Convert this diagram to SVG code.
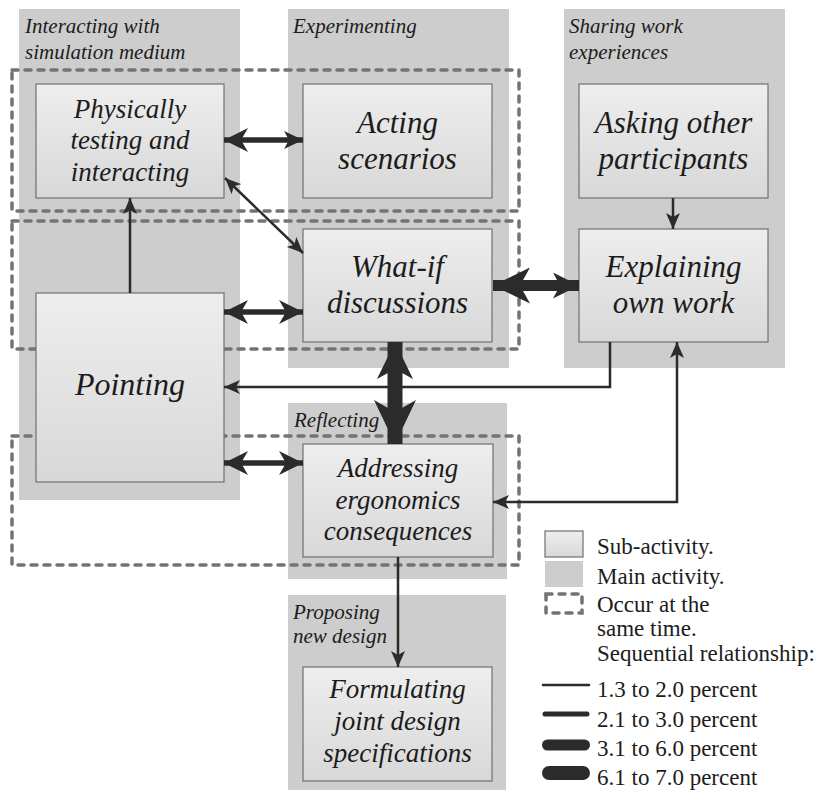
<svg xmlns="http://www.w3.org/2000/svg" width="823" height="790" viewBox="0 0 823 790">
  <style>
    text { font-family: Liberation Serif, Times New Roman, Tinos, Noto Serif, DejaVu Serif, serif; fill: #1c1c1c; }
    .main { fill: #cdcdcd; }
    .sub { fill: url(#subFill); stroke: #707070; stroke-width: 1.2; }
    .mainLabel { font-style: italic; font-size: 21px; }
    .subLabel { font-style: italic; font-size: 31px; text-anchor: middle; }
    .subLabel3 { font-size: 27px; }
    .subLabel1 { font-size: 32px; }
    .concurrent { fill: none; stroke: #737373; stroke-width: 3.5; stroke-dasharray: 6 7; stroke-linecap: round; }
    .link { fill: none; stroke: #2b2b2b; stroke-linejoin: miter; }
    .thin { stroke-width: 2.5; }
    .med { stroke-width: 5.5; }
    .heavy3 { stroke-width: 11; }
    .heavy4 { stroke-width: 15; }
    .legendText { font-size: 23px; }
    .legendLine { stroke: #2b2b2b; stroke-linecap: round; }
  </style>
  <defs>
    <linearGradient id="subFill" x1="0" y1="0" x2="0" y2="1">
      <stop offset="0" stop-color="#eeeeee"/>
      <stop offset="1" stop-color="#d8d8d8"/>
    </linearGradient>
    <marker id="headThin" markerUnits="userSpaceOnUse" markerWidth="16" markerHeight="14" refX="16" refY="7" orient="auto-start-reverse">
      <path d="M0,0 L16,7 L0,14 L4,7 Z" fill="#2b2b2b"/>
    </marker>
    <marker id="headMed" markerUnits="userSpaceOnUse" markerWidth="24" markerHeight="24" refX="24" refY="12" orient="auto-start-reverse">
      <path d="M0,0 L24,12 L0,24 L7,12 Z" fill="#2b2b2b"/>
    </marker>
    <marker id="headMedS" markerUnits="userSpaceOnUse" markerWidth="19" markerHeight="18" refX="19" refY="9" orient="auto-start-reverse">
      <path d="M0,0 L19,9 L0,18 L5,9 Z" fill="#2b2b2b"/>
    </marker>
    <marker id="headHeavyA" markerUnits="userSpaceOnUse" markerWidth="37" markerHeight="36" refX="37" refY="18" orient="auto-start-reverse">
      <path d="M0,0 L37,18 L0,36 L10,18 Z" fill="#2b2b2b"/>
    </marker>
    <marker id="headHeavyB" markerUnits="userSpaceOnUse" markerWidth="26" markerHeight="26" refX="26" refY="13" orient="auto-start-reverse">
      <path d="M0,0 L26,13 L0,26 L7,13 Z" fill="#2b2b2b"/>
    </marker>
    <marker id="headHeavyC" markerUnits="userSpaceOnUse" markerWidth="44" markerHeight="42" refX="44" refY="21" orient="auto-start-reverse">
      <path d="M0,0 L44,21 L0,42 L12,21 Z" fill="#2b2b2b"/>
    </marker>
  </defs>

  <rect x="0" y="0" width="823" height="790" fill="#ffffff"/>

  <!-- main activities -->
  <g id="main-interacting">
    <rect class="main" x="19" y="9" width="221" height="491"/>
    <text class="mainLabel" font-family="Liberation Serif" x="25" y="33">Interacting with</text>
    <text class="mainLabel" font-family="Liberation Serif" x="25" y="59">simulation medium</text>
  </g>
  <g id="main-experimenting">
    <rect class="main" x="288" y="9" width="221" height="359"/>
    <text class="mainLabel" x="293" y="33">Experimenting</text>
  </g>
  <g id="main-sharing">
    <rect class="main" x="564" y="9" width="221" height="359"/>
    <text class="mainLabel" x="569" y="33">Sharing work</text>
    <text class="mainLabel" x="569" y="59">experiences</text>
  </g>
  <g id="main-reflecting">
    <rect class="main" x="288" y="403" width="219" height="176"/>
    <text class="mainLabel" x="294" y="427">Reflecting</text>
  </g>
  <g id="main-proposing">
    <rect class="main" x="288" y="595" width="218" height="195"/>
    <text class="mainLabel" x="293" y="619">Proposing</text>
    <text class="mainLabel" x="293" y="643">new design</text>
  </g>

  <!-- activities occurring at the same time -->
  <g id="concurrency">
    <rect class="concurrent" x="12" y="70" width="507" height="141"/>
    <rect class="concurrent" x="12" y="221" width="507" height="128"/>
    <rect class="concurrent" x="12" y="436" width="507" height="129"/>
  </g>

  <!-- sub-activities -->
  <g id="sub-physically">
    <rect class="sub" x="36" y="84" width="188" height="114"/>
    <text class="subLabel subLabel3" x="130" y="117.5">Physically</text>
    <text class="subLabel subLabel3" x="130" y="149">testing and</text>
    <text class="subLabel subLabel3" x="130" y="180.5">interacting</text>
  </g>
  <g id="sub-acting">
    <rect class="sub" x="303" y="84" width="189" height="114"/>
    <text class="subLabel" x="397.5" y="132.5">Acting</text>
    <text class="subLabel" x="397.5" y="168.5">scenarios</text>
  </g>
  <g id="sub-asking">
    <rect class="sub" x="579" y="84" width="189" height="114"/>
    <text class="subLabel" x="673.5" y="132.5">Asking other</text>
    <text class="subLabel" x="673.5" y="168.5">participants</text>
  </g>
  <g id="sub-whatif">
    <rect class="sub" x="303" y="229" width="189" height="113"/>
    <text class="subLabel" x="397.5" y="277">What-if</text>
    <text class="subLabel" x="397.5" y="313">discussions</text>
  </g>
  <g id="sub-explaining">
    <rect class="sub" x="579" y="229" width="189" height="113"/>
    <text class="subLabel" x="673.5" y="277">Explaining</text>
    <text class="subLabel" x="673.5" y="313">own work</text>
  </g>
  <g id="sub-pointing">
    <rect class="sub" x="36" y="293" width="188" height="189"/>
    <text class="subLabel subLabel1" x="130" y="395">Pointing</text>
  </g>
  <g id="sub-addressing">
    <rect class="sub" x="303" y="444" width="190" height="113"/>
    <text class="subLabel subLabel3" x="398" y="477">Addressing</text>
    <text class="subLabel subLabel3" x="398" y="508.5">ergonomics</text>
    <text class="subLabel subLabel3" x="398" y="540">consequences</text>
  </g>
  <g id="sub-formulating">
    <rect class="sub" x="303" y="667" width="189" height="114"/>
    <text class="subLabel subLabel3" x="397.5" y="698">Formulating</text>
    <text class="subLabel subLabel3" x="397.5" y="730">joint design</text>
    <text class="subLabel subLabel3" x="397.5" y="762">specifications</text>
  </g>

  <!-- sequential relationships -->
  <g id="connectors">
    <path class="link med" d="M224,140 H303" marker-start="url(#headMed)" marker-end="url(#headMedS)"/>
    <path class="link med" d="M224,312 H303" marker-start="url(#headMed)" marker-end="url(#headMed)"/>
    <path class="link med" d="M224,463 H303" marker-start="url(#headMed)" marker-end="url(#headMed)"/>
    <path class="link thin" d="M225,178 L303,253" marker-start="url(#headThin)" marker-end="url(#headThin)"/>
    <path class="link thin" d="M130,293 V198" marker-end="url(#headThin)"/>
    <path class="link thin" d="M673,198 V229" marker-end="url(#headThin)"/>
    <path class="link thin" d="M610,342 V387 H224" marker-end="url(#headThin)"/>
    <path class="link thin" d="M493,502 H677 V342" marker-start="url(#headThin)" marker-end="url(#headThin)"/>
    <path class="link thin" d="M398,557 V667" marker-end="url(#headThin)"/>
    <path class="link heavy3" d="M493,285.5 H579" marker-start="url(#headHeavyA)" marker-end="url(#headHeavyB)"/>
    <path class="link heavy4" d="M395,342 V444" marker-start="url(#headHeavyA)" marker-end="url(#headHeavyC)"/>
  </g>

  <!-- legend -->
  <g id="legend">
    <rect class="sub" x="545" y="531" width="38" height="26"/>
    <text class="legendText" x="597" y="554">Sub-activity.</text>
    <rect class="main" x="545" y="561" width="38" height="26"/>
    <text class="legendText" x="597" y="584">Main activity.</text>
    <rect class="concurrent" x="546" y="594" width="36" height="19" stroke-dasharray="4 5"/>
    <text class="legendText" x="597" y="612">Occur at the</text>
    <text class="legendText" x="597" y="636">same time.</text>
    <text class="legendText" x="597" y="661">Sequential relationship:</text>
    <line class="legendLine" x1="543" y1="685" x2="589" y2="685" stroke-width="2.5"/>
    <text class="legendText" x="597" y="697">1.3 to 2.0 percent</text>
    <line class="legendLine" x1="545" y1="714" x2="587" y2="714" stroke-width="5"/>
    <text class="legendText" x="597" y="727">2.1 to 3.0 percent</text>
    <line class="legendLine" x1="547.5" y1="745" x2="584.5" y2="745" stroke-width="11"/>
    <text class="legendText" x="597" y="756">3.1 to 6.0 percent</text>
    <line class="legendLine" x1="549" y1="773" x2="583" y2="773" stroke-width="14"/>
    <text class="legendText" x="597" y="785">6.1 to 7.0 percent</text>
  </g>
</svg>
